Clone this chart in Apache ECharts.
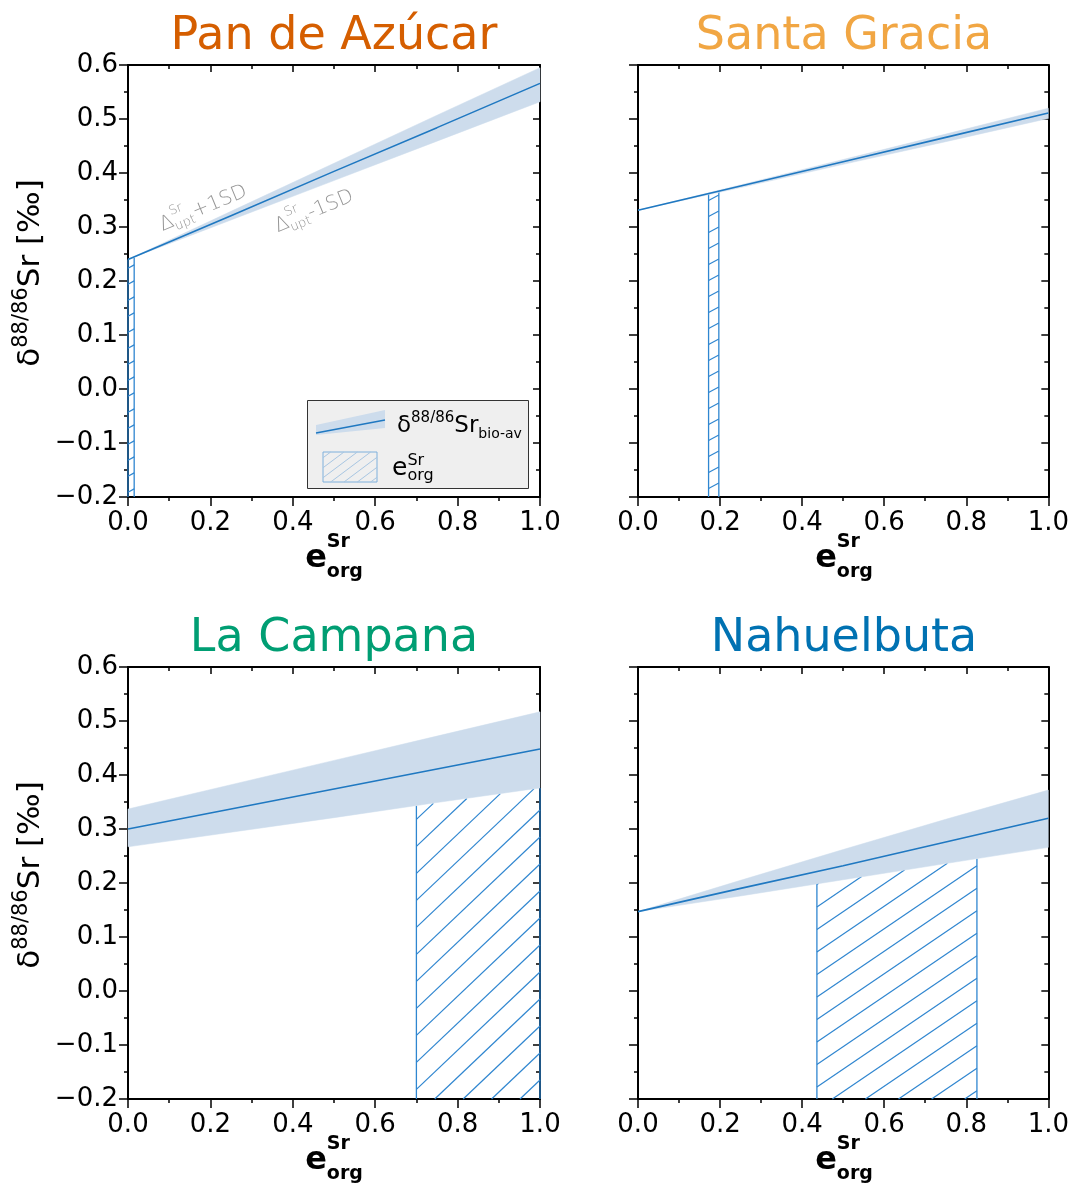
<!DOCTYPE html>
<html><head><meta charset="utf-8">
<script src="https://cdn.jsdelivr.net/npm/echarts@6/dist/echarts.min.js"></script>
<style>html,body{margin:0;padding:0;background:#fff}#c{width:1072px;height:1189px}</style>
</head><body><div id="c"></div>
<script>
// ---------------- DATA ----------------
const siteNames = ['Pan de Azúcar', 'Santa Gracia', 'La Campana', 'Nahuelbuta'];
const eOrg = [0.0, 0.25, 0.5, 0.75, 1.0];

const panLine  = [0.240, 0.321, 0.403, 0.484, 0.566];
const panUpper = [0.240, 0.329, 0.418, 0.507, 0.595];
const panLower = [0.240, 0.313, 0.386, 0.459, 0.532];
const panHatchX = [0.0, 0.015];
const panHatchTop = [0.240, 0.243];

const sgLine  = [0.331, 0.376, 0.421, 0.466, 0.511];
const sgUpper = [0.331, 0.378, 0.425, 0.472, 0.520];
const sgLower = [0.331, 0.373, 0.416, 0.458, 0.501];
const sgHatchX = [0.172, 0.197];
const sgHatchTop = [0.362, 0.366];

const lcLine  = [0.300, 0.337, 0.374, 0.411, 0.448];
const lcUpper = [0.337, 0.382, 0.427, 0.472, 0.517];
const lcLower = [0.267, 0.294, 0.321, 0.349, 0.376];
const lcHatchX = [0.70, 1.0];
const lcHatchTop = [0.343, 0.376];

const nbLine  = [0.147, 0.190, 0.232, 0.276, 0.320];
const nbUpper = [0.147, 0.205, 0.262, 0.318, 0.372];
const nbLower = [0.147, 0.176, 0.206, 0.236, 0.266];
const nbHatchX = [0.436, 0.826];
const nbHatchTop = [0.199, 0.245];

const hatchBottom = -0.2;
const xTickLabels = ['0.0', '0.2', '0.4', '0.6', '0.8', '1.0'];
const yTickLabels = ['\u22120.2', '\u22120.1', '0.0', '0.1', '0.2', '0.3', '0.4', '0.5', '0.6'];

// ---------------- STYLE / LAYOUT ----------------
const FAM = '"DejaVu Sans"';
const BAND = '#cddcec', LINE = '#1f78c1', HATCH = '#2f86d0';
const titleColors = ['#D55E00', '#F1A643', '#009E73', '#0072B2'];
const gridPos = [[128, 65], [638, 65], [128, 667], [638, 667]];
const GW = 412, GH = 432;
const hatchStyle = [{s: 0.53, d: 16}, {s: 0.53, d: 16}, {s: 0.95, d: 27}, {s: 0.68, d: 22.5}];

const panels = [
  {line: panLine, up: panUpper, lo: panLower, hx: panHatchX, ht: panHatchTop},
  {line: sgLine, up: sgUpper, lo: sgLower, hx: sgHatchX, ht: sgHatchTop},
  {line: lcLine, up: lcUpper, lo: lcLower, hx: lcHatchX, ht: lcHatchTop},
  {line: nbLine, up: nbUpper, lo: nbLower, hx: nbHatchX, ht: nbHatchTop}
];

// text measurement + composed sub/superscript text
const mctx = document.createElement('canvas').getContext('2d');
function tw(t, size, weight) { mctx.font = (weight || 'normal') + ' ' + size + 'px ' + FAM; return mctx.measureText(t).width; }
function rt(parts, o) {
  let w = 0; const items = [];
  parts.forEach(p => {
    if (p.t != null) {
      items.push({t: p.t, size: p.size, weight: p.weight, x: w, dy: p.dy || 0});
      w += tw(p.t, p.size, p.weight);
    } else {
      items.push({t: p.sup, size: p.size, weight: p.weight, x: w, dy: p.supDy});
      items.push({t: p.sub, size: p.size, weight: p.weight, x: w, dy: p.subDy});
      w += Math.max(tw(p.sup, p.size, p.weight), tw(p.sub, p.size, p.weight));
    }
  });
  const off = o.anchor === 'center' ? -w / 2 : 0;
  return {
    type: 'group', x: o.x, y: o.y, rotation: o.rotation || 0, silent: true,
    children: items.map(it => ({
      type: 'text', x: it.x + off, y: it.dy - 0.35 * it.size,
      style: {text: it.t, fontSize: it.size, fontFamily: FAM, fontWeight: it.weight || 'normal',
        fill: o.fill || '#000', align: 'left', verticalAlign: 'middle'}
    }))
  };
}

// hatch lines clipped to quadrilateral (vertical sides, flat bottom, linear top) in pixels
function hatchLines(x0, x1, yB, t0, t1, s, d, color, lw) {
  const m = (t1 - t0) / (x1 - x0);
  const out = [];
  const cMin = Math.min(t0 + s * x0, t1 + s * x1), cMax = yB + s * x1;
  for (let c = Math.ceil(cMin / d) * d; c <= cMax; c += d) {
    const xa = Math.max(x0, (c - yB) / s);
    const xb = Math.min(x1, (c - t0 + m * x0) / (s + m));
    if (xb > xa + 0.3) out.push({type: 'line', shape: {x1: xa, y1: c - s * xa, x2: xb, y2: c - s * xb},
      style: {stroke: color, lineWidth: lw}});
  }
  return out;
}

// ---------------- OPTION ----------------
const grids = [], xAxes = [], yAxes = [], series = [], graphics = [];
const axisLine = {show: true, onZero: false, lineStyle: {color: '#000', width: 2}};
gridPos.forEach((g, i) => {
  grids.push({left: g[0], top: g[1], width: GW, height: GH, containLabel: false});
  const labelFont = {fontSize: 26, fontFamily: FAM, color: '#000'};
  xAxes.push({gridIndex: i, type: 'value', position: 'bottom', min: 0, max: 1, interval: 0.2,
    axisLine, splitLine: {show: false},
    axisTick: {show: true, inside: false, length: 9, lineStyle: {color: '#000', width: 1.5}},
    minorTick: {show: true, splitNumber: 2, length: 4, lineStyle: {color: '#000', width: 1.5}},
    axisLabel: Object.assign({margin: 13, formatter: v => xTickLabels[Math.round(v / 0.2)]}, labelFont)});
  xAxes.push({gridIndex: i, type: 'value', position: 'top', min: 0, max: 1, interval: 0.2,
    axisLine, splitLine: {show: false},
    axisTick: {show: true, inside: true, length: 7, lineStyle: {color: '#000', width: 1.5}},
    minorTick: {show: true, splitNumber: 2, length: 4, lineStyle: {color: '#000', width: 1.5}},
    axisLabel: {show: false}});
  yAxes.push({gridIndex: i, type: 'value', position: 'left', min: -0.2, max: 0.6, interval: 0.1,
    axisLine, splitLine: {show: false},
    axisTick: {show: true, inside: false, length: 9, lineStyle: {color: '#000', width: 1.5}},
    minorTick: {show: true, splitNumber: 2, length: 4, lineStyle: {color: '#000', width: 1.5}},
    axisLabel: Object.assign({show: i % 2 === 0, margin: 10,
      formatter: v => yTickLabels[Math.round((v + 0.2) / 0.1)]}, labelFont)});
  yAxes.push({gridIndex: i, type: 'value', position: 'right', min: -0.2, max: 0.6, interval: 0.1,
    axisLine, splitLine: {show: false},
    axisTick: {show: true, inside: true, length: 7, lineStyle: {color: '#000', width: 1.5}},
    minorTick: {show: true, splitNumber: 2, length: 4, lineStyle: {color: '#000', width: 1.5}},
    axisLabel: {show: false}});

  const P = panels[i], hs = hatchStyle[i];
  // hatch
  series.push({type: 'custom', xAxisIndex: 2 * i, yAxisIndex: 2 * i, z: 2, silent: true,
    data: [[P.hx[0], hatchBottom]],
    renderItem: (params, api) => {
      const a = api.coord([P.hx[0], hatchBottom]), b = api.coord([P.hx[1], hatchBottom]);
      const t0 = api.coord([P.hx[0], P.ht[0]]), t1 = api.coord([P.hx[1], P.ht[1]]);
      const ch = hatchLines(a[0], b[0], a[1], t0[1], t1[1], hs.s, hs.d, HATCH, 1.2);
      ch.push({type: 'line', shape: {x1: a[0], y1: a[1], x2: t0[0], y2: t0[1]}, style: {stroke: HATCH, lineWidth: 1.3}});
      ch.push({type: 'line', shape: {x1: b[0], y1: b[1], x2: t1[0], y2: t1[1]}, style: {stroke: HATCH, lineWidth: 1.3}});
      return {type: 'group', children: ch};
    }});
  // band
  series.push({type: 'custom', xAxisIndex: 2 * i, yAxisIndex: 2 * i, z: 3, silent: true,
    data: [[eOrg[0], P.lo[0]]],
    renderItem: (params, api) => {
      const pts = [];
      for (let k = 0; k < eOrg.length; k++) pts.push(api.coord([eOrg[k], P.up[k]]));
      for (let k = eOrg.length - 1; k >= 0; k--) pts.push(api.coord([eOrg[k], P.lo[k]]));
      return {type: 'polygon', shape: {points: pts}, style: {fill: BAND, stroke: BAND, lineWidth: 0.5}};
    }});
  // mean line
  series.push({type: 'line', xAxisIndex: 2 * i, yAxisIndex: 2 * i, z: 4, silent: true,
    data: eOrg.map((x, k) => [x, P.line[k]]), showSymbol: false, symbol: 'none',
    lineStyle: {color: LINE, width: 1.6}});

  // title
  const cx = g[0] + GW / 2;
  graphics.push(rt([{t: siteNames[i], size: 46}], {x: cx, y: g[1] - 12, anchor: 'center', fill: titleColors[i]}));
  // x-axis name
  graphics.push(rt([{t: 'e', size: 32, weight: 'bold'},
    {sup: 'Sr', sub: 'org', size: 19, weight: 'bold', supDy: -21, subDy: 9}],
    {x: cx, y: g[1] + GH + 73, anchor: 'center'}));
  // y-axis name
  if (i % 2 === 0) {
    graphics.push(rt([{t: '\u03b4', size: 31}, {t: '88/86', size: 21, dy: -13},
      {t: 'Sr [\u2030]', size: 31}],
      {x: 42, y: g[1] + GH / 2 - 8, anchor: 'center', rotation: Math.PI / 2}));
  }
});

// annotations in first panel
const annRot = 22.5 * Math.PI / 180;
graphics.push(rt([{t: '\u0394', size: 20, weight: 200},
  {sup: 'Sr', sub: 'upt', size: 13, weight: 200, supDy: -12, subDy: 4}, {t: '+1SD', size: 20, weight: 200}],
  {x: 206, y: 215, anchor: 'center', rotation: annRot, fill: '#969696'}));
graphics.push(rt([{t: '\u0394', size: 20, weight: 200},
  {sup: 'Sr', sub: 'upt', size: 13, weight: 200, supDy: -12, subDy: 4}, {t: '-1SD', size: 20, weight: 200}],
  {x: 317, y: 218, anchor: 'center', rotation: annRot, fill: '#969696'}));

// legend
const legend = {type: 'group', silent: true, z: 100, children: [
  {type: 'rect', shape: {x: 307.5, y: 400.5, width: 221, height: 88}, style: {fill: '#efefef', stroke: '#333', lineWidth: 1}},
  {type: 'polygon', shape: {points: [[316, 425], [385, 410], [385, 428], [316, 435]]}, style: {fill: BAND}},
  {type: 'line', shape: {x1: 316, y1: 433, x2: 385, y2: 420}, style: {stroke: LINE, lineWidth: 1.4}},
  {type: 'rect', shape: {x: 323, y: 452, width: 54, height: 30}, style: {fill: 'none', stroke: '#7fb0dc', lineWidth: 1}}
].concat(hatchLines(323, 377, 482, 452, 452, 0.75, 10, '#a8c6e2', 1))};
graphics.push(legend);
const lt1 = rt([{t: '\u03b4', size: 23}, {t: '88/86', size: 15, dy: -11}, {t: 'Sr', size: 23},
  {t: 'bio-av', size: 14, dy: 5}], {x: 397, y: 434, anchor: 'left'}); lt1.z = 101;
const lt2 = rt([{t: 'e', size: 25}, {sup: 'Sr', sub: 'org', size: 16, supDy: -11, subDy: 4}],
  {x: 392, y: 477, anchor: 'left'}); lt2.z = 101;
graphics.push(lt1, lt2);

const chart = echarts.init(document.getElementById('c'), null, {renderer: 'canvas'});
chart.setOption({
  animation: false, backgroundColor: '#fff',
  grid: grids, xAxis: xAxes, yAxis: yAxes, series,
  graphic: {elements: graphics}
});
</script></body></html>
